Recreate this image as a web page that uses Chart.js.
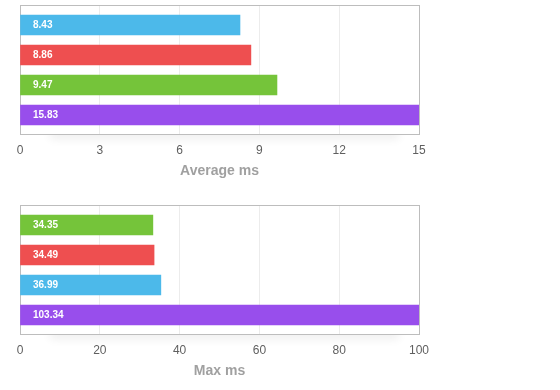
<!DOCTYPE html>
<html>
<head>
<meta charset="utf-8">
<script src="https://cdn.jsdelivr.net/npm/chart.js@4"></script>
<style>
  html, body { margin: 0; padding: 0; background: #fff; }
  .panel { position: absolute; left: 0; width: 560px; height: 190px; }
</style>
</head>
<body>
<div class="panel" style="top:0"><canvas id="graficoMedia"></canvas></div>
<div class="panel" style="top:200px"><canvas id="graficoMax"></canvas></div>
<script>
// Dados (comprimento das barras; rótulos como aparecem escritos)
const mediaValores = [8.27, 8.68, 9.66, 15.83];
const mediaRotulos = ['8.43', '8.86', '9.47', '15.83'];
const mediaCores = ['#4cb9ea', '#ee4f50', '#75c43a', '#984eec'];
const mediaTicks = [0, 3, 6, 9, 12, 15];

const maxValores = [33.3, 33.6, 35.3, 103.34];
const maxRotulos = ['34.35', '34.49', '36.99', '103.34'];
const maxCores = ['#75c43a', '#ee4f50', '#4cb9ea', '#984eec'];
const maxTicks = [0, 20, 40, 60, 80, 100];

Chart.defaults.font.family = '"Liberation Sans", Arial, Helvetica, sans-serif';

// moldura e sombra em volta da área do gráfico
const moldura = {
    id: 'moldura',
    beforeDraw(chart) {
        const a = chart.chartArea;
        const ctx = chart.ctx;
        ctx.save();
        ctx.shadowColor = 'rgba(0,0,0,0.07)';
        ctx.shadowBlur = 10;
        ctx.shadowOffsetY = 5;
        ctx.fillStyle = '#fff';
        ctx.fillRect(a.left + 30, a.bottom - 10, a.right - a.left - 50, 10);
        ctx.restore();
        ctx.fillStyle = '#fff';
        ctx.fillRect(a.left, a.top, a.right - a.left, a.bottom - a.top);
    },
    beforeDatasetsDraw(chart) {
        const a = chart.chartArea;
        const ctx = chart.ctx;
        ctx.save();
        ctx.strokeStyle = '#bdbdbd';
        ctx.lineWidth = 1;
        ctx.strokeRect(a.left + 0.5, a.top + 0.5, a.right - a.left, a.bottom - a.top);
        ctx.restore();
    }
};

// valores escritos dentro das barras
const rotulos = {
    id: 'rotulos',
    afterDatasetsDraw(chart) {
        const ctx = chart.ctx;
        const meta = chart.getDatasetMeta(0);
        const textos = chart.options.rotulosTexto;
        ctx.save();
        ctx.fillStyle = '#fff';
        ctx.font = 'bold 10px "Liberation Sans", Arial, sans-serif';
        ctx.textBaseline = 'middle';
        ctx.textAlign = 'left';
        meta.data.forEach((barra, i) => {
            ctx.fillText(textos[i], barra.base + 12.5, barra.y);
        });
        ctx.restore();
    }
};

function criarGrafico(id, valores, textos, cores, ticks, titulo) {
    return new Chart(document.getElementById(id), {
        type: 'bar',
        data: {
            datasets: [{
                data: valores.map((v, i) => ({ x: v, y: i })),
                backgroundColor: cores,
                barThickness: 20,
                clip: 0
            }]
        },
        options: {
            rotulosTexto: textos,
            indexAxis: 'y',
            responsive: true,
            maintainAspectRatio: false,
            animation: false,
            layout: { padding: { left: 20, right: 141, top: 5, bottom: 0 } },
            plugins: { legend: { display: false }, tooltip: { enabled: false } },
            scales: {
                x: {
                    type: 'linear',
                    min: ticks[0],
                    max: ticks[ticks.length - 1],
                    afterBuildTicks: s => { s.ticks = ticks.map(v => ({ value: v })); },
                    afterFit: s => { s.height = 56; },
                    grid: { color: '#ececec', drawTicks: false },
                    border: { color: '#bdbdbd' },
                    ticks: { padding: 9, color: '#5f5f5f', font: { size: 12 } },
                    title: {
                        display: true,
                        text: titulo,
                        color: '#a0a0a0',
                        font: { size: 14, weight: 'bold' },
                        padding: { top: 0, bottom: 10 }
                    }
                },
                y: {
                    type: 'linear',
                    reverse: true,
                    offset: false,
                    grace: 0,
                    min: -0.667,
                    max: valores.length - 1 + 0.633,
                    display: false
                }
            }
        },
        plugins: [moldura, rotulos]
    });
}

criarGrafico('graficoMedia', mediaValores, mediaRotulos, mediaCores, mediaTicks, 'Average ms');
criarGrafico('graficoMax', maxValores, maxRotulos, maxCores, maxTicks, 'Max ms');
</script>
</body>
</html>
